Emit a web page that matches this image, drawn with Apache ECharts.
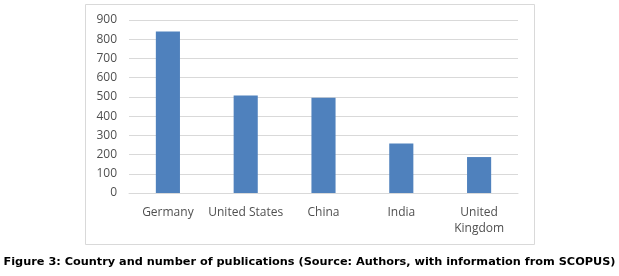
<!DOCTYPE html>
<html><head><meta charset="utf-8">
<script src="https://cdn.jsdelivr.net/npm/echarts@6/dist/echarts.min.js"></script>
<style>html,body{margin:0;padding:0;background:#fff}#c{width:619px;height:276px}</style>
</head><body><div id="c"></div>
<script>
const categories = ['Germany', 'United States', 'China', 'India', 'United\nKingdom'];
const publications = [840, 507, 496, 258, 187];
const yTicks = [0, 100, 200, 300, 400, 500, 600, 700, 800, 900];
const caption = 'Figure 3: Country and number of publications (Source: Authors, with information from SCOPUS)';

const chart = echarts.init(document.getElementById('c'), null, {renderer: 'canvas'});
chart.setOption({
  animation: false,
  backgroundColor: '#fff',
  grid: {left: 129, right: 101, top: 20, bottom: 83},
  graphic: [
    {type: 'rect', shape: {x: 85.5, y: 4.5, width: 449, height: 240},
     style: {fill: 'none', stroke: '#d9d9d9', lineWidth: 1}, z: -1},
    {type: 'text', left: 'center', top: 257,
     style: {text: caption, font: 'bold 11.3px "DejaVu Sans"', fill: '#000'}}
  ],
  xAxis: {
    type: 'category', data: categories,
    axisLine: {lineStyle: {color: '#d9d9d9'}},
    axisTick: {show: false},
    axisLabel: {color: '#505050', fontFamily: 'Open Sans', fontSize: 12, margin: 12, lineHeight: 16, interval: 0}
  },
  yAxis: {
    type: 'value', min: yTicks[0], max: yTicks[yTicks.length - 1], interval: 100,
    axisLine: {show: false}, axisTick: {show: false},
    splitLine: {lineStyle: {color: '#d9d9d9'}},
    axisLabel: {color: '#505050', fontFamily: 'Open Sans', fontSize: 12, margin: 12}
  },
  series: [{
    type: 'bar', data: publications, barWidth: '31%',
    itemStyle: {color: '#4f81bd'}
  }]
});
</script></body></html>
